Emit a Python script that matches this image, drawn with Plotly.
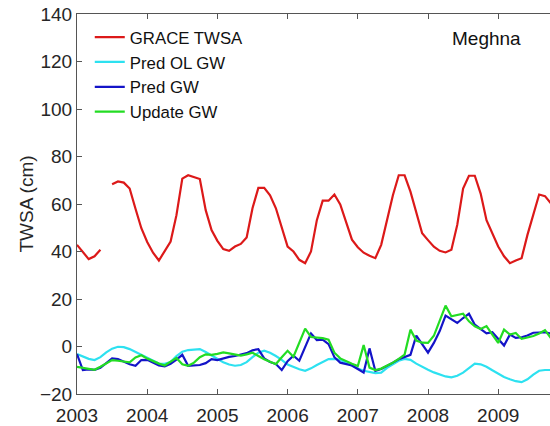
import plotly.graph_objects as go

start_year = 2003
# Monthly values, Jan 2003 .. Dec 2009 (84 months)
grace_twsa = [
    42.8, 40.0, 36.8, 38.0, 40.7, None, 68.3, 69.5, 69.0, 66.5, 58.0, 49.8,
    44.0, 39.5, 36.2, 40.0, 44.2, 55.3, 70.7, 72.1, 71.2, 70.5, 57.4, 49.0,
    44.5, 41.0, 40.3, 42.1, 43.2, 45.9, 58.2, 66.8, 66.8, 63.7, 58.2, 50.0,
    42.1, 40.0, 36.5, 35.1, 40.0, 53.2, 61.4, 61.4, 64.0, 59.8, 52.0, 45.0,
    41.8, 39.5, 38.2, 37.2, 42.8, 53.0, 63.7, 72.1, 72.1, 65.2, 56.0, 47.7,
    44.8, 42.0, 40.3, 39.6, 40.7, 51.2, 66.5, 71.9, 71.9, 64.4, 53.2, 47.5,
    42.1, 38.0, 35.1, 36.2, 37.2, 47.0, 55.0, 64.0, 63.3, 60.3, 53.0, 47.0,
]
pred_ol_gw = [
    -3.2, -4.2, -5.2, -5.7, -4.5, -2.5, -0.9, -0.1, -0.3, -1.1, -2.3, -3.5,
    -4.7, -6.0, -7.2, -7.3, -6.5, -4.0, -2.2, -1.5, -1.2, -1.1, -2.3, -3.8,
    -5.3, -6.6, -7.6, -8.1, -7.8, -6.6, -4.5, -2.6, -1.8, -2.6, -4.0, -5.6,
    -7.6, -8.6, -9.6, -10.2, -9.2, -7.8, -6.5, -5.3, -5.2, -5.6, -6.8, -8.2,
    -9.3, -10.2, -10.8, -11.2, -11.0, -9.0, -7.5, -6.0, -5.2, -5.6, -7.2, -8.6,
    -9.8, -10.9, -11.9, -12.6, -13.0, -12.3, -11.0, -9.0, -7.2, -7.5, -8.5, -10.0,
    -11.5, -12.8, -13.8, -14.6, -15.0, -13.8, -11.8, -10.2, -9.9, -9.9, -11.0, -12.0,
]
pred_gw = [
    -3.2, -9.9, -9.6, -9.8, -9.0, -7.0, -5.0, -5.3, -6.5, -7.5, -8.1, -5.7,
    -5.6, -6.7, -8.0, -8.4, -7.3, -5.5, -3.5, -8.1, -8.1, -7.8, -7.0, -5.3,
    -5.7, -5.0, -4.4, -4.0, -3.5, -2.8, -1.6, -1.1, -5.0, -6.5, -7.4, -9.9,
    -6.2, -3.9, -6.0, -0.3, 5.5, 2.7, 2.9, 1.0, -4.5, -6.8, -7.3, -8.0,
    -9.5, -11.0, -0.8, -10.3, -9.5, -8.3, -6.8, -5.4, -4.5, -3.5, 4.6, 1.0,
    -2.6, 1.5, 6.5, 13.0, 11.5, 9.9, 12.0, 13.8, 9.2, 7.2, 5.5, 6.0,
    3.0, 0.4, 5.0, 3.6, 3.9, 4.6, 5.8, 6.0, 6.0, 5.5, 5.0, 4.5,
]
update_gw = [
    -8.6, -9.0, -9.2, -9.8, -8.5, -7.0, -5.7, -6.0, -6.4, -6.7, -4.6, -3.7,
    -5.1, -6.2, -7.2, -8.0, -6.5, -4.8, -7.5, -8.1, -6.8, -4.5, -3.3, -3.5,
    -3.1, -2.5, -2.9, -3.4, -3.8, -3.3, -2.6, -4.0, -5.4, -6.4, -7.4, -4.5,
    -1.8, -4.3, 1.5, 7.5, 4.0, 3.8, 3.5, 2.9, -2.6, -5.0, -6.3, -7.3,
    -8.2, 0.6, -8.9, -9.9, -9.3, -8.2, -6.8, -5.2, -3.4, 7.1, 2.5, 1.6,
    1.5, 4.5, 11.0, 17.2, 12.7, 13.3, 13.8, 10.6, 8.5, 7.4, 8.6, 5.0,
    1.5, 7.1, 5.0, 5.7, 3.2, 3.8, 4.4, 5.5, 6.9, 3.6, 3.0, 3.0,
]
years = [2003, 2004, 2005, 2006, 2007, 2008, 2009]
yticks = [-20, 0, 20, 40, 60, 80, 100, 120, 140]

t = [start_year + k / 12 for k in range(len(grace_twsa))]

series = [
    ("GRACE TWSA", grace_twsa, "rgb(220,25,25)"),
    ("Pred OL GW", pred_ol_gw, "rgb(45,225,240)"),
    ("Pred GW", pred_gw, "rgb(20,20,200)"),
    ("Update GW", update_gw, "rgb(35,220,35)"),
]

fig = go.Figure()
for name, vals, col in series:
    fig.add_trace(go.Scatter(x=t, y=vals, mode="lines", name=name,
                             line=dict(color=col, width=2.2),
                             connectgaps=False))

font_family = "Liberation Sans, Arial, sans-serif"
axis_col = "#555555"
fig.update_layout(
    width=550, height=426,
    margin=dict(l=77, r=0, t=14, b=30),
    paper_bgcolor="white", plot_bgcolor="white",
    font=dict(family=font_family, size=19, color="#262626"),
    showlegend=True,
    legend=dict(x=0.027, y=0.985, xanchor="left", yanchor="top",
                bgcolor="rgba(0,0,0,0)", borderwidth=0,
                font=dict(size=16.8, color="#111111"),
                tracegroupgap=0),
)
fig.add_annotation(text="Meghna", x=0.866, y=0.935, xref="paper", yref="paper",
                   showarrow=False, xanchor="center", yanchor="middle",
                   font=dict(size=19, color="#111111"))
fig.update_xaxes(range=[2003, 2003 + 473 / 70.2], tickvals=years,
                 ticktext=[str(y) for y in years],
                 showline=True, linecolor=axis_col, linewidth=1, mirror="ticks",
                 ticks="inside", ticklen=5, tickcolor=axis_col,
                 ticklabelstandoff=4,
                 showgrid=False, zeroline=False)
fig.update_yaxes(range=[-20, 140], tickvals=yticks,
                 showline=True, linecolor=axis_col, linewidth=1, mirror=False,
                 ticks="inside", ticklen=5, tickcolor=axis_col,
                 showgrid=False, zeroline=False,
                 title=dict(text="TWSA (cm)", font=dict(size=19), standoff=1))
fig.write_html("out.html")
